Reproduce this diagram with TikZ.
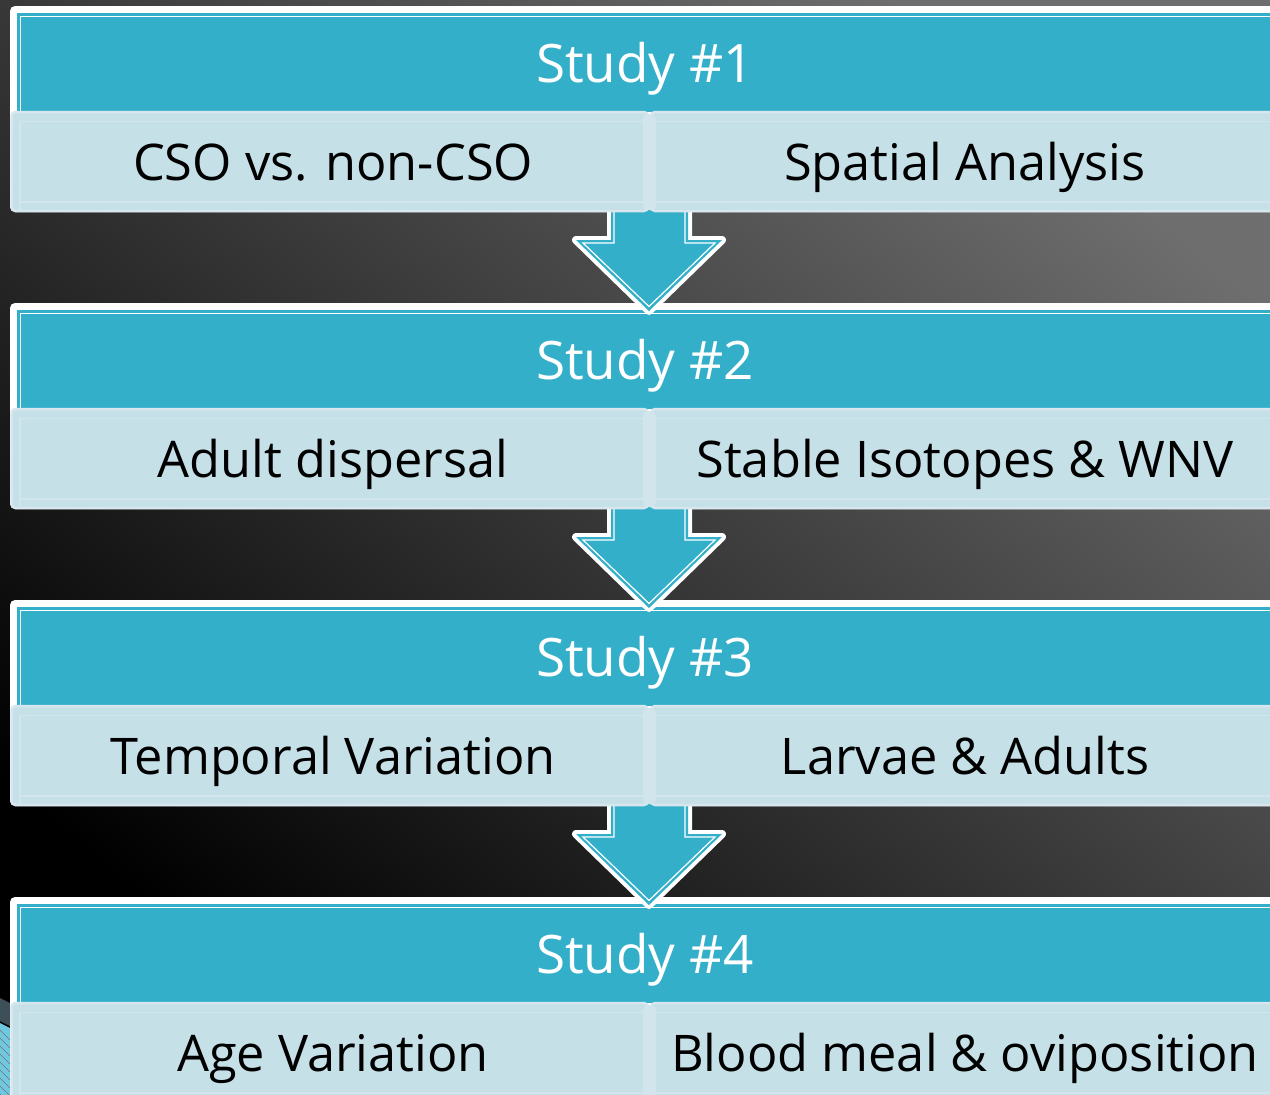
\documentclass[tikz,border=0pt]{standalone}
\usepackage{fontspec}
\setmainfont{Open Sans}
\definecolor{hdrblue}{HTML}{34AFCA}
\definecolor{cellfill}{HTML}{C6E0E8}
\definecolor{celledge}{HTML}{D8E7EE}
\definecolor{cellline}{HTML}{D2E5EC}
\definecolor{slateband}{HTML}{3D4F58}
\definecolor{swirlblue}{HTML}{6FC8E0}
\tikzset{
  hdrtext/.style={anchor=base, text=white, inner sep=0pt, font=\fontsize{53}{62}\selectfont},
  celltext/.style={anchor=base, text=black, inner sep=0pt, font=\fontsize{50.5}{60}\selectfont},
  cellbox/.style={fill=cellfill, draw=celledge, line width=2.5pt},
  cellrule/.style={draw=cellline, line width=1.6pt},
}
\begin{document}
\begin{tikzpicture}[x=1pt,y=-1pt]
\useasboundingbox (0,0) rectangle (1270,1095);
% dark backdrop, lighter towards the upper right
\shade[top color=black!57, bottom color=black, shading angle=-40]
  (0,0) rectangle (1270,1095);
% corner ornament at the lower left
\fill[slateband] (0,998) -- (10,1003) -- (10,1026) -- (0,1021) -- cycle;
\fill[swirlblue] (0,1023) -- (10,1028) -- (10,1095) -- (0,1095) -- cycle;
\foreach \k in {0,...,8}
  \draw[black!55, line width=0.6pt] (0,1030+8*\k) -- (10,1040+8*\k);

% frames and title bands
\foreach \i in {1,...,4}{
  \pgfmathsetmacro\t{297*(\i-1)}
  \fill[white, rounded corners=5pt] (10,\t+6) rectangle (1300,\t+212);
  \fill[hdrblue] (17,\t+13) rectangle (1300,\t+112);
  \draw[white, line width=1.4pt] (1300,\t+16.5) -- (20.5,\t+16.5) -- (20.5,\t+112);
  \node[hdrtext] (head\i) at (645,\t+82) {Study \#\i};
}

% downward arrows linking consecutive studies
\foreach \i in {1,2,3}{
  \pgfmathsetmacro\t{297*(\i-1)}
  \draw[white, line width=8pt, line join=round]
    (611,\t+200) -- (611,\t+240) -- (576,\t+240) -- (649,\t+311)
    -- (722,\t+240) -- (688,\t+240) -- (688,\t+200);
  \fill[hdrblue]
    (611,\t+200) -- (611,\t+240) -- (576,\t+240) -- (649,\t+311)
    -- (722,\t+240) -- (688,\t+240) -- (688,\t+200) -- cycle;
  \draw[white, line width=1.2pt]
    (614,\t+200) -- (614,\t+243) -- (583,\t+243) -- (649,\t+306.5)
    -- (715,\t+243) -- (685,\t+243) -- (685,\t+200);
}

% topic cells under each title
\foreach \i/\L/\R in {1/{CSO vs. non-CSO}/{Spatial Analysis},
                      2/{Adult dispersal}/{Stable Isotopes \& WNV},
                      3/{Temporal Variation}/{Larvae \& Adults},
                      4/{Age Variation}/{Blood meal \& oviposition}}{
  \pgfmathsetmacro\t{297*(\i-1)}
  \path[cellbox, rounded corners=4pt] (11.5,\t+112) rectangle (648,\t+211);
  \path[cellbox, rounded corners=4pt] (651,\t+112) rectangle (1300,\t+211);
  \draw[cellrule] (20,\t+211) -- (20,\t+121.5) -- (1300,\t+121.5);
  \draw[cellrule] (20,\t+202) -- (1300,\t+202);
  \fill[cellline, rounded corners=5pt] (643,\t+114) rectangle (656,\t+210);
  \node[celltext] (left\i) at (333,\t+180) {\L};
  \node[celltext] (right\i) at (965,\t+180) {\R};
}
\end{tikzpicture}
\end{document}
